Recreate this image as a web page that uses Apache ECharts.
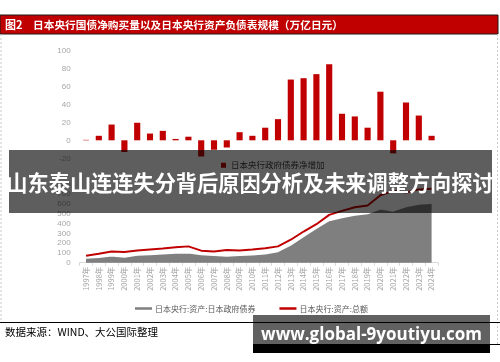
<!DOCTYPE html>
<html>
<head>
<meta charset="utf-8">
<script src="https://cdn.jsdelivr.net/npm/echarts@6/dist/echarts.min.js"></script>
<style>
html,body{margin:0;padding:0;background:#fff;}
#c{width:500px;height:362px;}
</style>
</head>
<body>
<div id="c"></div>
<script>
var years = ['1997年','1998年','1999年','2000年','2001年','2002年','2003年','2004年','2005年','2006年','2007年','2008年','2009年','2010年','2011年','2012年','2013年','2014年','2015年','2016年','2017年','2018年','2019年','2020年','2021年','2022年','2023年','2024年'];
var netPurchase = [0.5,5,17.5,-13,19.5,7.5,10.5,1.5,4,-18,-10.5,-8,9,5,14,23.5,67.5,69,73.5,84.5,29.5,26.5,14,54,-14.5,42,27.5,5];
var jgbHoldings = [47,55,71,58,78,85,92,99,102,85,75,68,75,81,92,115,183,269,353,432,462,489,503,551,530,574,601,609];
var totalAssets = [71,92,115,109,126,136,146,157,167,123,115,129,126,134,149,167,235,319,394,489,530,568,585,690,735,718,750,756];
var topTicks = {min:-20, max:100, interval:20};
var bottomTicks = {min:0, max:800, interval:100};
var titleText = '日本央行国债净购买量以及日本央行资产负债表规模（万亿日元）';
var barName = '日本央行政府债券净增加';
var areaName = '日本央行:资产:日本政府债券';
var lineName = '日本央行:资产:总额';
var sourceText = '数据来源：WIND、大公国际整理';
var bannerText = '山东泰山连连失分背后原因分析及未来调整方向探讨';
var watermarkText = 'www.global-9youtiyu.com';

var cjk = '"Noto Sans CJK SC", "Liberation Sans", sans-serif';
var chart = echarts.init(document.getElementById('c'), null, {renderer:'canvas'});
var axisLabel = {color:'#a6a6a6', fontSize:8, fontFamily:'"Liberation Sans", sans-serif'};

chart.setOption({
  animation:false,
  backgroundColor:'#fff',
  grid:[
    {left:79.6, width:358.4, top:50.3, height:108},
    {left:79.6, width:358.4, top:184.5, height:78.2}
  ],
  xAxis:[
    {type:'category', gridIndex:0, data:years, boundaryGap:true, axisLine:{show:false}, axisTick:{show:false}, axisLabel:{show:false}},
    {type:'category', gridIndex:1, data:years, boundaryGap:true,
     axisLine:{show:true, lineStyle:{color:'#d9d9d9', width:1}},
     axisTick:{show:true, length:3, lineStyle:{color:'#d9d9d9'}},
     axisLabel:{rotate:90, color:'#a6a6a6', fontSize:7.5, margin:4, interval:0, fontFamily:cjk}}
  ],
  yAxis:[
    {type:'value', gridIndex:0, min:topTicks.min, max:topTicks.max, interval:topTicks.interval,
     splitLine:{show:false}, axisLine:{show:false}, axisTick:{show:false}, axisLabel:Object.assign({margin:9}, axisLabel)},
    {type:'value', gridIndex:1, min:bottomTicks.min, max:bottomTicks.max, interval:bottomTicks.interval,
     splitLine:{show:false}, axisLine:{show:false}, axisTick:{show:false}, axisLabel:Object.assign({margin:9}, axisLabel)}
  ],
  legend:[
    {data:[{name:barName, icon:'rect'}], left:221, top:161, itemWidth:5, itemHeight:5, itemGap:10,
     textStyle:{fontSize:8.5, color:'#404040', fontFamily:cjk}, padding:0},
    {data:[{name:areaName, icon:'rect', itemStyle:{color:'#7f7f7f'}}, {name:lineName, icon:'rect', itemStyle:{color:'#c00000'}}],
     left:135, top:304.5, itemWidth:17, itemHeight:2.5, itemGap:24,
     textStyle:{fontSize:8, color:'#595959', fontFamily:cjk, padding:[0,0,0,-2]}, padding:0}
  ],
  series:[
    {name:barName, type:'bar', xAxisIndex:0, yAxisIndex:0, data:netPurchase, barWidth:'48%',
     itemStyle:{color:'#c00000'}},
    {name:areaName, type:'line', xAxisIndex:1, yAxisIndex:1, data:jgbHoldings, showSymbol:false, symbol:'none',
     itemStyle:{color:'#7f7f7f'}, lineStyle:{color:'#ffffff', width:1.5}, areaStyle:{color:'#7f7f7f', opacity:1}, z:2},
    {name:lineName, type:'line', xAxisIndex:1, yAxisIndex:1, data:totalAssets, showSymbol:false, symbol:'none',
     itemStyle:{color:'#c00000'}, lineStyle:{color:'#c00000', width:2}, z:3}
  ],
  graphic:[
    {type:'rect', shape:{x:0, y:15, width:498, height:19}, style:{fill:'#c00000', stroke:'#1a1a1a', lineWidth:1}, z:50},
    {type:'text', x:5, y:24.5, style:{text:'图2', fill:'#fff', font:'bold 11px '+cjk, textVerticalAlign:'middle'}, z:51},
    {type:'text', x:33, y:24.5, style:{text:titleText, fill:'#fff', font:'bold 10.7px '+cjk, textVerticalAlign:'middle'}, z:51},
    {type:'line', shape:{x1:1, y1:34, x2:1, y2:322}, style:{stroke:'#c8c8c8', lineWidth:1, lineDash:[2,2]}, z:50},
    {type:'line', shape:{x1:497.5, y1:34, x2:497.5, y2:344}, style:{stroke:'#c8c8c8', lineWidth:1, lineDash:[2,2]}, z:50},
    {type:'line', shape:{x1:0, y1:322.5, x2:500, y2:322.5}, style:{stroke:'#000', lineWidth:1}, z:50},
    {type:'text', x:5, y:332.5, style:{text:sourceText, fill:'#000', font:'10.5px '+cjk, textVerticalAlign:'middle'}, z:51},
    {type:'line', shape:{x1:253, y1:344.5, x2:500, y2:344.5}, style:{stroke:'#000', lineWidth:1}, z:50},
    {type:'rect', shape:{x:9, y:150, width:483, height:63}, style:{fill:'rgba(0,0,0,0.63)'}, z:100},
    {type:'text', x:250, y:182.5, style:{text:bannerText, fill:'#fff', font:'bold 21.2px '+cjk, textAlign:'center', textVerticalAlign:'middle'}, z:101},
    {type:'rect', shape:{x:253, y:344, width:237, height:9}, style:{fill:'#000'}, z:99},
    {type:'rect', shape:{x:253, y:315, width:237, height:29}, style:{fill:'rgba(0,0,0,0.62)'}, z:100},
    {type:'text', x:371.5, y:335, style:{text:watermarkText, fill:'#fff', font:'bold 17px "Open Sans", "Liberation Sans", sans-serif', textAlign:'center', textVerticalAlign:'middle'}, z:101}
  ]
});
</script>
</body>
</html>
